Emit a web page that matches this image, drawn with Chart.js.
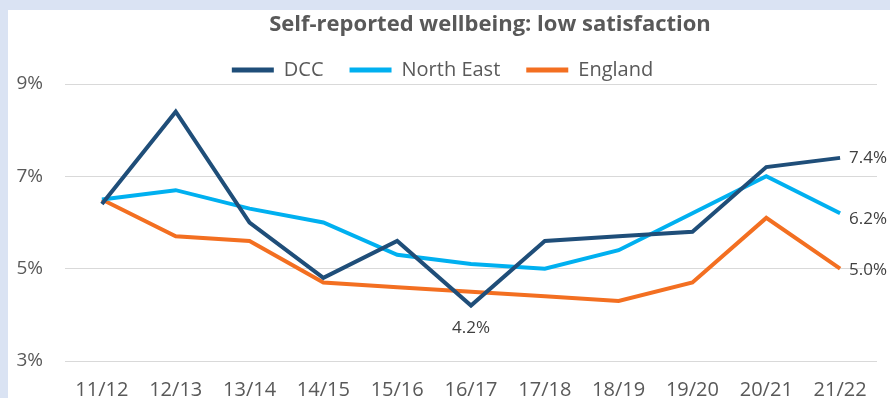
<!DOCTYPE html>
<html>
<head>
<meta charset="utf-8">
<script src="https://cdn.jsdelivr.net/npm/chart.js@4.4.1/dist/chart.umd.min.js"></script>
<style>
  html, body {
    margin: 0;
    padding: 0;
    background: #dae3f3;
  }
  #frame {
    position: absolute;
    left: 8px;
    top: 10px;
    width: 882px;
    height: 388px;
    background: #ffffff;
  }
</style>
</head>
<body>
<div id="frame">
  <canvas id="canvas" width="882" height="388"></canvas>
</div>
<script>
  const chartTitle = 'Self-reported wellbeing: low satisfaction';
  const years = ['11/12', '12/13', '13/14', '14/15', '15/16', '16/17', '17/18', '18/19', '19/20', '20/21', '21/22'];
  const dcc = [6.4, 8.4, 6.0, 4.8, 5.6, 4.2, 5.6, 5.7, 5.8, 7.2, 7.4];
  const northEast = [6.5, 6.7, 6.3, 6.0, 5.3, 5.1, 5.0, 5.4, 6.2, 7.0, 6.2];
  const england = [6.5, 5.7, 5.6, 4.7, 4.6, 4.5, 4.4, 4.3, 4.7, 6.1, 5.0];
  const yTicks = [3, 5, 7, 9];

  const FONT = '"Open Sans", sans-serif';
  const TEXT = '#595959';

  // which points get a value label, and where it sits
  const pointLabels = [
    {dataset: 0, index: 10, place: 'right', dy: 0},
    {dataset: 0, index: 5, place: 'below', dy: 0},
    {dataset: 1, index: 10, place: 'right', dy: 6},
    {dataset: 2, index: 10, place: 'right', dy: 1},
  ];

  const LEGEND_HEIGHT = 50;

  const extras = {
    id: 'extras',
    beforeLayout(chart) {
      // legend keeps its wide item spacing but takes less height
      const legend = chart.legend;
      if (legend && !legend.fitPatched) {
        const fit = legend.fit;
        legend.fit = function () {
          fit.call(this);
          this.height = LEGEND_HEIGHT;
        };
        legend.fitPatched = true;
      }
    },
    afterDraw(chart) {
      const ctx = chart.ctx;
      ctx.save();

      ctx.font = 'bold 22px ' + FONT;
      ctx.fillStyle = TEXT;
      ctx.textAlign = 'center';
      ctx.textBaseline = 'middle';
      ctx.fillText(chartTitle, 482, 15);

      ctx.font = '17px ' + FONT;
      ctx.fillStyle = '#404040';
      for (const lbl of pointLabels) {
        const pt = chart.getDatasetMeta(lbl.dataset).data[lbl.index];
        const value = chart.data.datasets[lbl.dataset].data[lbl.index];
        const text = value.toFixed(1) + '%';
        if (lbl.place === 'right') {
          ctx.textAlign = 'left';
          ctx.textBaseline = 'middle';
          ctx.fillText(text, pt.x + 9, pt.y + lbl.dy);
        } else {
          ctx.textAlign = 'center';
          ctx.textBaseline = 'middle';
          ctx.fillText(text, pt.x, pt.y + 23);
        }
      }
      ctx.restore();
    },
  };

  function lineSet(label, data, color) {
    return {
      label: label,
      data: data,
      borderColor: color,
      backgroundColor: color,
      borderWidth: 4,
      pointRadius: 0,
      tension: 0,
      borderJoinStyle: 'miter',
    };
  }

  const config = {
    type: 'line',
    data: {
      labels: years,
      datasets: [
        lineSet('DCC', dcc, '#1f4e79'),
        lineSet('North East', northEast, '#00b0f0'),
        lineSet('England', england, '#f36f21'),
      ],
    },
    options: {
      responsive: false,
      animation: false,
      layout: {
        padding: {left: 0, right: 13, top: 24, bottom: 0},
      },
      plugins: {
        title: {display: false},
        legend: {
          display: true,
          labels: {
            color: TEXT,
            font: {family: FONT, size: 20},
            boxWidth: 42,
            boxHeight: 5,
            padding: 26,
            generateLabels(chart) {
              const items = Chart.defaults.plugins.legend.labels.generateLabels(chart);
              items.forEach(item => { item.lineWidth = 0; });
              return items;
            },
          },
        },
        tooltip: {enabled: false},
      },
      scales: {
        x: {
          offset: true,
          afterFit(scale) {
            scale.height = 37;
          },
          grid: {display: false, drawTicks: false},
          border: {display: false},
          ticks: {
            color: TEXT,
            font: {family: FONT, size: 20, lineHeight: 1},
            padding: 19,
            maxRotation: 0,
            autoSkip: false,
          },
        },
        y: {
          min: 3,
          max: 9,
          afterFit(scale) {
            scale.width = 57;
          },
          afterBuildTicks(scale) {
            scale.ticks = yTicks.map(v => ({value: v}));
          },
          grid: {color: '#d9d9d9', lineWidth: 1, drawTicks: false},
          border: {display: false},
          ticks: {
            color: TEXT,
            font: {family: FONT, size: 19},
            padding: 22,
            callback: v => v + '%',
          },
        },
      },
    },
    plugins: [extras],
  };

  new Chart(document.getElementById('canvas').getContext('2d'), config);
</script>
</body>
</html>
